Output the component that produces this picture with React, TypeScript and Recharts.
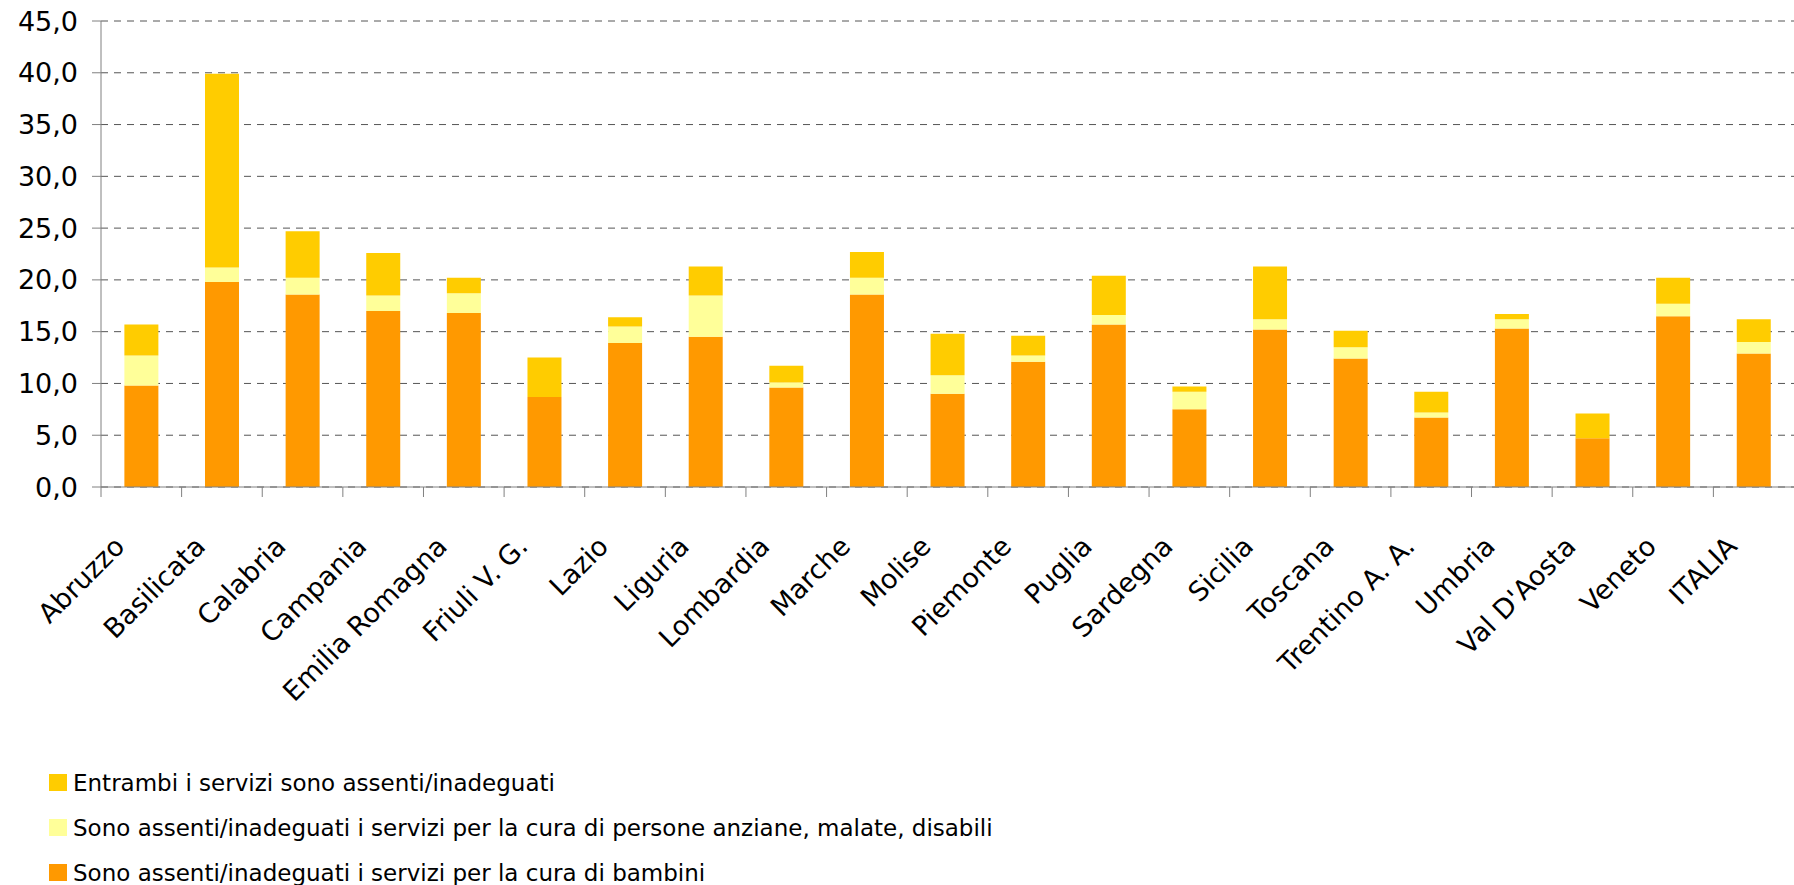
import { BarChart, Bar, XAxis, YAxis, CartesianGrid, Legend } from "recharts";

const regions = [
  "Abruzzo", "Basilicata", "Calabria", "Campania", "Emilia Romagna", "Friuli V. G.",
  "Lazio", "Liguria", "Lombardia", "Marche", "Molise", "Piemonte", "Puglia", "Sardegna",
  "Sicilia", "Toscana", "Trentino A. A.", "Umbria", "Val D'Aosta", "Veneto", "ITALIA",
];
// servizi per bambini assenti/inadeguati
const bambini = [9.8, 19.8, 18.6, 17.0, 16.8, 8.7, 13.9, 14.5, 9.6, 18.6, 9.0, 12.1, 15.7, 7.5, 15.2, 12.4, 6.7, 15.3, 4.7, 16.5, 12.9];
// servizi per anziani, malati, disabili
const anziani = [2.9, 1.4, 1.6, 1.5, 1.9, 0, 1.6, 4.0, 0.5, 1.6, 1.8, 0.6, 0.9, 1.7, 1.0, 1.1, 0.5, 0.9, 0, 1.2, 1.1];
// entrambi
const entrambi = [3.0, 18.7, 4.5, 4.1, 1.5, 3.8, 0.9, 2.8, 1.6, 2.5, 4.0, 1.9, 3.8, 0.5, 5.1, 1.6, 2.0, 0.5, 2.4, 2.5, 2.2];
const yTicks = [0, 5, 10, 15, 20, 25, 30, 35, 40, 45];
const legendOrder = ["entrambi", "anziani", "bambini"];

const data = regions.map((r, i) => ({
  name: r,
  bambini: bambini[i],
  anziani: anziani[i],
  entrambi: entrambi[i],
}));

const W = 1794;
const H = 885;
const Y_W = 101;
const BAND = (W - Y_W) / regions.length;
const FONT = "'DejaVu Sans', sans-serif";

function RegionTick(props: any) {
  const { x, y, payload } = props;
  const left = x - BAND / 2;
  const tx = x - 15;
  const ty = y + 61;
  return (
    <g>
      <line x1={left} x2={left} y1={y} y2={y + 10} stroke="#808080" />
      <text
        x={tx}
        y={ty}
        textAnchor="end"
        fontSize={27}
        fontFamily={FONT}
        fill="#000"
        transform={`rotate(-45, ${tx}, ${ty})`}
      >
        {payload.value}
      </text>
    </g>
  );
}

const renderLegend = (props: any) => {
  const items = [...(props.payload || [])].sort(
    (a: any, b: any) => legendOrder.indexOf(a.dataKey) - legendOrder.indexOf(b.dataKey)
  );
  return (
    <div style={{ fontFamily: FONT, fontSize: 23, color: "#000" }}>
      {items.map((it: any) => (
        <div key={it.dataKey} style={{ display: "flex", alignItems: "center", height: 45 }}>
          <span style={{ display: "inline-block", width: 18, height: 17, background: it.color, marginRight: 6 }} />
          <span>{it.value}</span>
        </div>
      ))}
    </div>
  );
};

export default function App() {
  return (
    <div style={{ position: "absolute", left: 0, top: 0, background: "#fff" }}>
      <BarChart
        width={W}
        height={H}
        data={data}
        margin={{ top: 21, right: 0, bottom: 0, left: 0 }}
        barCategoryGap="29%"
      >
        <CartesianGrid vertical={false} stroke="#555" strokeDasharray="7 6" />
        <XAxis
          dataKey="name"
          interval={0}
          height={398}
          stroke="#808080"
          tickSize={0}
          tickMargin={0}
          tickLine={false}
          tick={<RegionTick />}
        />
        <YAxis
          width={Y_W}
          domain={[0, 45]}
          ticks={yTicks}
          stroke="#808080"
          tickSize={9}
          tickMargin={14}
          tickFormatter={(v: number) => v.toFixed(1).replace(".", ",")}
          tick={{ fill: "#000", fontSize: 27, fontFamily: FONT }}
        />
        <Legend
          layout="vertical"
          align="center"
          verticalAlign="middle"
          content={renderLegend}
          wrapperStyle={{ left: 49, top: 760, width: "auto" }}
        />
        <Bar dataKey="bambini" stackId="a" fill="#FF9900" name="Sono assenti/inadeguati i servizi per la cura di bambini" isAnimationActive={false} />
        <Bar dataKey="anziani" stackId="a" fill="#FFFF99" name="Sono assenti/inadeguati i servizi per la cura di persone anziane, malate, disabili" isAnimationActive={false} />
        <Bar dataKey="entrambi" stackId="a" fill="#FFCC00" name="Entrambi i servizi sono assenti/inadeguati" isAnimationActive={false} />
      </BarChart>
    </div>
  );
}
